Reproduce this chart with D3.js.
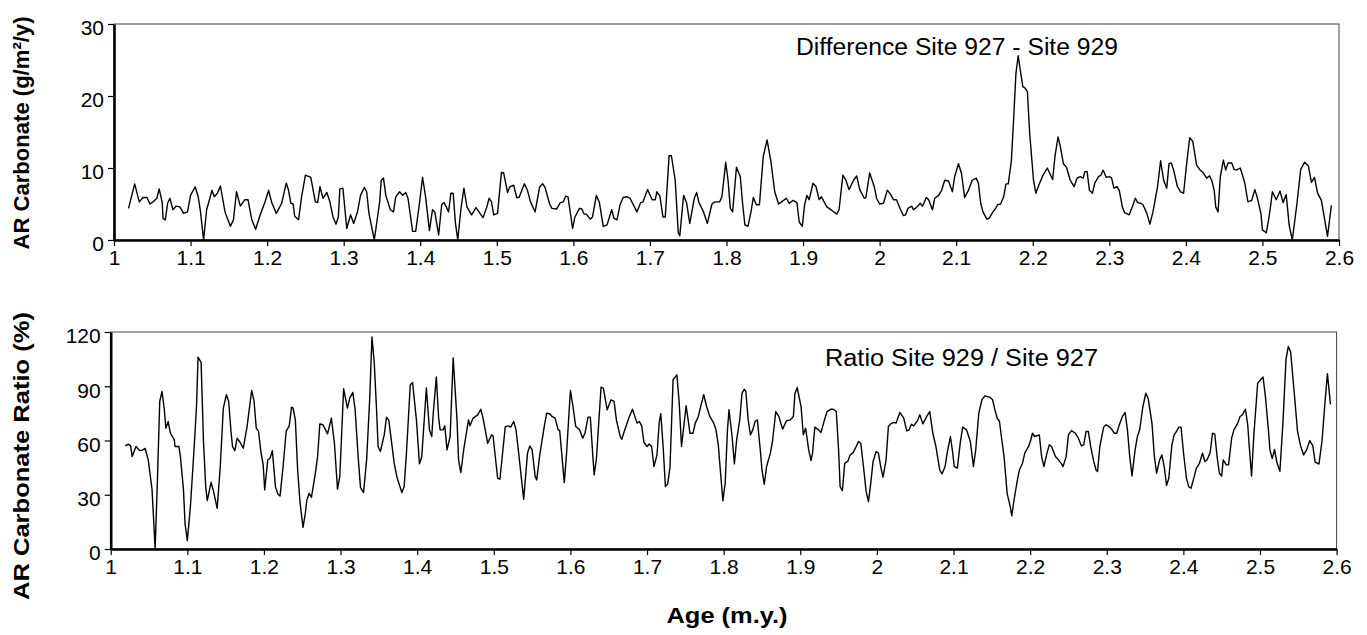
<!DOCTYPE html>
<html>
<head>
<meta charset="utf-8">
<script src="https://cdn.jsdelivr.net/npm/d3@7"></script>
<style>
  body { margin: 0; background: #fff; }
  svg { display: block; font-family: "Liberation Sans", Arial, sans-serif; }
</style>
</head>
<body>
<svg id="chart" width="1367" height="635"></svg>
<script>
// Age ticks shared by both panels
const ageTicks = [1, 1.1, 1.2, 1.3, 1.4, 1.5, 1.6, 1.7, 1.8, 1.9, 2, 2.1, 2.2, 2.3, 2.4, 2.5, 2.6];
const diffTicks = [0, 10, 20, 30];
const ratioTicks = [0, 30, 60, 90, 120];

// Difference Site 927 - Site 929 (g/m2/y)
const diffAge = [1.019,1.027,1.033,1.038,1.043,1.047,1.051,1.056,1.059,1.063,1.064,1.067,1.070,1.073,1.077,1.081,1.086,1.091,1.096,1.100,
1.106,1.110,1.113,1.117,1.121,1.128,1.131,1.135,1.139,1.145,1.152,1.156,1.160,1.165,1.171,1.175,1.180,1.185,1.191,1.197,
1.202,1.206,1.212,1.219,1.225,1.228,1.231,1.234,1.236,1.241,1.245,1.250,1.257,1.263,1.266,1.269,1.273,1.278,1.282,1.286,
1.290,1.293,1.295,1.299,1.304,1.309,1.313,1.318,1.322,1.327,1.330,1.333,1.340,1.347,1.349,1.352,1.355,1.361,1.365,1.368,
1.373,1.377,1.381,1.384,1.390,1.394,1.399,1.403,1.407,1.412,1.416,1.419,1.424,1.428,1.431,1.434,1.437,1.440,1.443,1.446,
1.449,1.453,1.457,1.461,1.467,1.473,1.478,1.482,1.487,1.490,1.493,1.496,1.501,1.506,1.509,1.514,1.517,1.522,1.526,1.529,
1.532,1.536,1.540,1.544,1.550,1.556,1.560,1.563,1.569,1.572,1.578,1.583,1.587,1.590,1.593,1.599,1.602,1.608,1.611,1.614,
1.617,1.622,1.625,1.630,1.634,1.639,1.644,1.650,1.653,1.657,1.661,1.665,1.670,1.674,1.683,1.688,1.691,1.697,1.699,1.703,
1.707,1.709,1.713,1.717,1.720,1.725,1.728,1.733,1.737,1.739,1.744,1.748,1.752,1.758,1.761,1.764,1.770,1.775,1.781,1.785,
1.791,1.794,1.799,1.802,1.805,1.808,1.813,1.818,1.821,1.824,1.828,1.832,1.835,1.839,1.843,1.848,1.853,1.858,1.863,1.868,
1.872,1.878,1.882,1.887,1.892,1.895,1.899,1.902,1.905,1.908,1.913,1.917,1.921,1.924,1.931,1.934,1.939,1.944,1.947,1.952,
1.956,1.960,1.966,1.970,1.974,1.980,1.982,1.987,1.993,1.996,2.000,2.005,2.010,2.014,2.018,2.022,2.027,2.031,2.034,2.037,
2.042,2.044,2.048,2.053,2.056,2.061,2.064,2.069,2.072,2.077,2.081,2.085,2.090,2.095,2.098,2.103,2.107,2.111,2.116,2.121,
2.126,2.129,2.132,2.135,2.140,2.143,2.148,2.151,2.154,2.158,2.162,2.165,2.168,2.172,2.175,2.178,2.181,2.183,2.187,2.190,
2.193,2.196,2.201,2.204,2.209,2.213,2.219,2.222,2.226,2.229,2.233,2.236,2.240,2.244,2.249,2.254,2.258,2.262,2.266,2.268,
2.271,2.274,2.278,2.281,2.286,2.289,2.292,2.296,2.300,2.303,2.306,2.310,2.313,2.317,2.320,2.326,2.330,2.334,2.337,2.341,
2.344,2.349,2.353,2.357,2.363,2.367,2.371,2.375,2.378,2.381,2.384,2.389,2.393,2.397,2.401,2.405,2.409,2.414,2.418,2.423,
2.427,2.431,2.434,2.437,2.439,2.442,2.445,2.449,2.452,2.455,2.460,2.463,2.466,2.471,2.474,2.477,2.481,2.486,2.490,2.493,
2.498,2.500,2.505,2.508,2.510,2.513,2.518,2.523,2.527,2.531,2.535,2.539,2.545,2.550,2.555,2.560,2.564,2.568,2.572,2.577,
2.581,2.585,2.590];
const diffVal = [4.4,7.8,5.3,5.9,5.9,5.0,5.3,5.8,7.1,5.2,3.0,2.8,5.1,5.8,4.2,4.7,4.6,3.7,3.9,6.2,
7.4,6.0,3.9,0,4.2,6.9,6.0,6.5,7.5,3.9,1.9,2.8,6.7,4.7,5.6,5.6,2.8,1.5,3.5,5.2,
6.9,5.2,3.7,5.1,7.9,6.9,5.1,5.0,3.3,2.8,6.0,9.0,8.7,5.3,5.2,7.4,5.8,6.6,5.3,3.2,
2.2,3.2,7.1,7.2,1.6,3.5,2.3,3.9,6.2,7.3,6.7,3.7,0,5.3,8.3,8.6,6.2,4.2,3.9,6.0,
6.7,6.2,6.6,5.8,1.2,1.2,5.1,8.7,6.0,1.3,4.2,3.9,0.7,4.9,5.2,4.6,3.9,6.5,6.5,2.3,
0,4.2,7.2,4.6,3.5,4.5,3.7,3.1,4.6,5.8,5.3,3.5,3.7,9.4,9.3,6.6,7.4,7.6,5.9,5.9,
6.7,7.8,6.9,5.3,3.9,7.4,7.8,7.3,5.0,4.4,4.3,5.2,5.3,6.1,6.0,1.6,3.2,4.4,4.3,3.6,
3.6,2.9,3.2,6.2,5.2,1.9,2.1,4.2,3.0,2.8,4.9,5.9,6.0,5.8,3.9,5.2,5.3,7.0,6.5,5.6,
5.6,6.7,6.1,3.2,3.2,11.7,11.7,8.3,1.0,0.6,6.2,5.1,2.3,5.8,6.6,5.2,3.9,2.3,5.0,5.3,
5.3,6.0,10.8,8.3,4.4,3.9,10.1,8.8,5.1,2.1,1.9,3.9,5.9,4.9,4.9,11.6,13.9,10.9,6.7,5.0,
5.3,5.8,5.1,5.5,5.2,2.5,1.9,4.9,6.2,5.6,7.9,7.4,5.6,6.0,4.6,4.4,4.0,3.6,4.2,9.0,
8.3,7.0,8.3,8.9,7.0,5.8,5.9,9.3,7.4,5.8,5.0,5.1,6.9,6.4,5.6,5.6,4.3,3.4,3.5,4.4,
4.7,4.2,4.5,5.1,4.7,5.9,5.6,4.2,5.8,6.2,6.9,8.3,8.2,6.7,8.8,10.6,9.2,5.9,6.9,8.3,
8.6,7.9,5.1,3.9,2.9,3.0,3.9,4.3,4.9,5.0,6.0,7.8,7.8,10.9,16.7,23.1,25.6,24.1,21.3,21.1,
20.6,14.8,8.3,6.5,7.9,8.9,10.0,9.3,8.4,11.6,14.3,13.0,10.6,10.1,8.3,7.4,8.6,8.8,8.6,9.5,
9.5,6.9,6.5,7.9,8.8,9.0,9.7,8.7,8.8,8.6,7.2,7.4,6.9,4.6,3.8,3.5,4.6,5.8,5.2,5.1,
4.9,3.7,2.2,3.9,7.4,11.0,8.3,7.2,10.6,10.7,9.7,7.4,6.7,6.5,10.6,14.2,13.7,10.4,9.8,9.3,
8.6,8.9,8.2,6.9,4.6,3.9,8.8,11.1,9.7,10.7,10.7,9.8,9.7,10.0,9.0,7.9,5.3,5.5,7.0,6.0,
3.7,1.4,1.0,2.8,4.2,6.7,5.6,6.8,5.2,6.3,2.0,0.0,5.0,9.8,10.8,10.3,8.0,8.7,6.5,5.5,
3.0,0.5,4.8];

// Ratio Site 929 / Site 927 (%)
const ratioAge = [1.019,1.023,1.026,1.028,1.033,1.038,1.042,1.045,1.049,1.054,1.058,1.061,1.064,1.067,1.070,1.072,1.075,1.078,1.083,1.084,
1.089,1.091,1.095,1.097,1.100,1.104,1.109,1.112,1.114,1.118,1.121,1.124,1.126,1.131,1.134,1.139,1.143,1.147,1.151,1.154,
1.157,1.159,1.162,1.165,1.169,1.173,1.178,1.184,1.187,1.190,1.193,1.196,1.199,1.201,1.205,1.208,1.211,1.215,1.218,1.221,
1.225,1.229,1.233,1.236,1.238,1.241,1.244,1.247,1.251,1.254,1.256,1.259,1.262,1.267,1.270,1.273,1.277,1.283,1.288,1.292,
1.296,1.299,1.304,1.309,1.312,1.316,1.319,1.323,1.326,1.330,1.334,1.338,1.341,1.344,1.347,1.349,1.352,1.357,1.360,1.363,
1.367,1.370,1.374,1.380,1.383,1.386,1.391,1.394,1.399,1.403,1.406,1.412,1.416,1.419,1.421,1.425,1.428,1.430,1.434,1.436,
1.439,1.443,1.447,1.452,1.454,1.457,1.461,1.467,1.469,1.473,1.479,1.483,1.486,1.492,1.497,1.499,1.505,1.508,1.515,1.519,
1.522,1.526,1.529,1.532,1.539,1.544,1.547,1.550,1.554,1.556,1.560,1.566,1.569,1.573,1.576,1.580,1.584,1.586,1.592,1.595,
1.600,1.603,1.607,1.612,1.616,1.619,1.623,1.626,1.629,1.631,1.634,1.640,1.643,1.648,1.653,1.657,1.660,1.665,1.667,1.671,
1.677,1.681,1.687,1.690,1.693,1.696,1.700,1.703,1.706,1.709,1.713,1.716,1.718,1.721,1.724,1.727,1.730,1.734,1.739,1.742,
1.745,1.751,1.753,1.756,1.760,1.763,1.767,1.770,1.774,1.778,1.782,1.787,1.790,1.793,1.796,1.799,1.802,1.805,1.807,1.811,
1.814,1.817,1.821,1.824,1.827,1.829,1.832,1.835,1.838,1.841,1.844,1.848,1.850,1.853,1.856,1.861,1.864,1.868,1.872,1.877,
1.882,1.887,1.891,1.893,1.896,1.901,1.904,1.907,1.911,1.914,1.916,1.919,1.924,1.927,1.931,1.935,1.940,1.943,1.947,1.950,
1.952,1.955,1.958,1.962,1.965,1.969,1.973,1.976,1.979,1.982,1.986,1.989,1.992,1.995,1.999,2.002,2.005,2.008,2.012,2.015,
2.018,2.022,2.025,2.030,2.035,2.039,2.042,2.045,2.048,2.053,2.056,2.060,2.065,2.069,2.073,2.077,2.082,2.085,2.089,2.092,
2.096,2.099,2.101,2.105,2.109,2.112,2.117,2.122,2.126,2.129,2.133,2.137,2.141,2.147,2.151,2.154,2.157,2.160,2.163,2.166,
2.170,2.174,2.176,2.179,2.183,2.186,2.190,2.193,2.198,2.201,2.203,2.206,2.212,2.215,2.218,2.222,2.225,2.228,2.233,2.237,
2.241,2.243,2.247,2.250,2.254,2.259,2.263,2.267,2.270,2.273,2.276,2.279,2.283,2.286,2.288,2.291,2.296,2.299,2.303,2.307,
2.310,2.313,2.316,2.320,2.324,2.327,2.330,2.333,2.337,2.340,2.343,2.347,2.351,2.354,2.359,2.362,2.365,2.369,2.372,2.375,
2.378,2.381,2.385,2.388,2.391,2.394,2.397,2.400,2.404,2.407,2.410,2.413,2.417,2.421,2.425,2.428,2.431,2.435,2.438,2.441,
2.444,2.447,2.450,2.452,2.456,2.459,2.463,2.466,2.471,2.474,2.477,2.481,2.484,2.486,2.489,2.492,2.497,2.499,2.504,2.507,
2.511,2.513,2.516,2.519,2.522,2.526,2.530,2.534,2.537,2.540,2.545,2.549,2.553,2.557,2.561,2.565,2.569,2.572,2.577,2.581,
2.585,2.588,2.592];
const ratioVal = [57.0,58.0,57.0,51.1,56.7,54.4,54.8,55.6,49.3,32.7,0,38.2,81.6,87.1,77.0,66.8,70.5,64.0,60.4,56.7,
56.7,51.1,32.7,14.2,4.6,23.4,56.7,78.8,106.1,103.2,60.4,34.5,26.8,36.9,32.3,22.5,45.6,77.9,85.3,81.6,
65.0,56.7,54.4,61.3,58.9,55.7,67.7,87.7,82.1,66.8,65.0,53.9,46.5,32.7,49.3,50.2,54.4,34.5,30.5,29.3,
45.6,65.0,68.1,78.4,77.9,71.4,43.7,26.2,12.0,19.7,27.1,30.8,28.6,41.5,51.1,69.2,68.7,63.7,72.4,58.5,
33.0,40.1,88.6,77.9,83.4,86.6,77.0,50.8,34.1,31.2,49.3,82.5,117.2,102.8,77.0,56.7,53.9,63.1,72.9,71.1,
57.6,47.4,39.1,31.2,34.5,53.0,90.8,92.1,71.4,47.1,51.1,89.0,65.9,62.2,75.1,95.1,72.4,65.9,65.9,68.1,
54.8,62.2,105.6,71.4,49.3,42.3,55.7,71.4,68.1,72.4,74.2,77.3,72.4,58.5,63.1,62.6,39.1,38.6,67.7,68.1,
67.4,70.5,65.9,54.8,27.5,53.0,57.0,54.8,40.1,38.2,52.0,68.1,75.1,74.8,73.3,72.4,65.9,65.5,36.7,53.0,
87.7,79.7,67.7,65.9,61.3,64.0,72.9,72.9,53.0,41.0,50.2,89.5,89.0,77.0,82.5,81.6,71.4,62.2,60.7,65.9,
73.3,77.3,69.6,70.5,68.1,58.9,56.7,58.1,56.7,45.6,52.0,70.5,74.8,56.7,34.5,36.0,45.6,93.6,96.3,80.7,
56.7,79.2,73.3,64.0,64.0,69.6,73.3,78.8,85.3,78.4,73.3,69.6,65.9,57.6,41.9,26.6,36.4,65.9,77.0,62.2,
47.1,60.4,71.4,86.2,88.4,87.1,71.4,63.1,65.9,70.5,71.4,53.9,43.7,35.8,45.6,53.0,60.4,76.0,73.3,66.3,
70.9,71.4,73.3,85.8,89.3,78.8,63.1,66.8,54.8,48.9,53.0,67.4,65.9,64.4,70.5,76.0,77.3,77.3,76.0,54.8,
34.5,32.3,47.4,48.4,52.0,53.3,56.7,59.4,58.5,47.4,31.7,26.2,36.4,48.4,53.9,53.0,45.6,39.7,49.3,67.7,
69.2,70.0,69.6,75.5,72.4,65.3,65.9,69.0,68.1,70.9,74.2,69.2,73.3,76.0,64.0,56.7,43.7,41.5,45.6,53.9,
62.2,53.0,45.6,44.7,59.4,67.4,65.9,59.4,45.6,54.8,75.0,82.5,84.7,84.0,82.5,77.0,72.4,70.5,60.4,51.1,
30.8,23.4,18.3,27.1,37.3,43.7,47.4,53.0,56.7,60.4,64.0,62.2,63.1,51.1,45.6,53.0,57.6,56.7,51.1,49.3,
47.1,45.6,51.1,63.1,65.5,64.0,61.3,57.0,57.6,65.0,65.0,56.7,48.4,43.7,42.8,56.7,67.4,68.7,67.7,65.9,
64.0,64.0,68.1,72.9,75.5,65.9,51.1,40.4,54.8,62.2,65.9,78.4,86.2,83.4,69.6,52.0,41.9,49.3,52.0,45.6,
35.1,39.1,57.6,63.1,65.0,67.4,67.4,53.9,39.1,34.5,33.6,38.2,44.7,47.4,53.0,48.4,49.3,53.3,64.0,63.5,
51.1,41.9,40.4,49.3,46.5,46.5,61.3,65.9,69.6,73.3,74.2,77.3,68.7,56.7,40.4,63.1,91.7,92.7,95.1,84.7,
65.9,54.8,50.0,55.0,48.0,43.0,70.0,105,112,109,85,65,57,52,55,60,57,48,47,60,
82,97,80];

const svg = d3.select("#chart");

function panel(opts) {
  const x = d3.scaleLinear().domain([1, 2.6]).range([opts.left, opts.right]);
  const y = d3.scaleLinear().domain(opts.yDomain).range([opts.bottom, opts.top]);
  const g = svg.append("g");

  // thin frame (top / right)
  g.append("rect")
    .attr("x", opts.left).attr("y", opts.top)
    .attr("width", opts.right - opts.left).attr("height", opts.bottom - opts.top)
    .attr("fill", "none").attr("stroke", "#444").attr("stroke-width", 1);

  // data line
  const pts = opts.ages.map((a, i) => [a, opts.vals[i]]);
  g.append("path")
    .datum(pts)
    .attr("fill", "none")
    .attr("stroke", "#000")
    .attr("stroke-width", 1.4)
    .attr("stroke-linejoin", "round")
    .attr("d", d3.line().x(d => x(d[0])).y(d => y(d[1])));

  // axes
  const xAxis = g.append("g")
    .attr("transform", "translate(0," + opts.bottom + ")")
    .call(d3.axisBottom(x).tickValues(ageTicks).tickFormat(d3.format("")).tickSize(6).tickSizeOuter(0).tickPadding(4));
  const yAxis = g.append("g")
    .attr("transform", "translate(" + opts.left + ",0)")
    .call(d3.axisLeft(y).tickValues(opts.yTicks).tickSize(6).tickSizeOuter(0).tickPadding(4));

  [xAxis, yAxis].forEach(ax => {
    ax.select(".domain").attr("stroke", "#000").attr("stroke-width", 2.6);
    ax.selectAll(".tick line").attr("stroke", "#000").attr("stroke-width", 1.2);
    ax.selectAll(".tick text")
      .attr("fill", "#000")
      .style("font-family", "'Liberation Sans', Arial, sans-serif")
      .style("font-size", "21px");
  });
  yAxis.selectAll(".tick text").attr("dy", "0.52em");
  xAxis.selectAll(".tick text").attr("dy", "0.7em");

  // annotation
  g.append("text")
    .attr("x", opts.noteX).attr("y", opts.noteY)
    .attr("textLength", opts.noteLen).attr("lengthAdjust", "spacingAndGlyphs")
    .style("font-size", "23px")
    .text(opts.note);

  // y title
  g.append("text")
    .attr("transform", "translate(" + opts.titleX + "," + opts.titleY + ") rotate(-90)")
    .attr("text-anchor", "middle")
    .attr("textLength", opts.titleLen).attr("lengthAdjust", "spacingAndGlyphs")
    .style("font-size", "22px").style("font-weight", "bold")
    .text(opts.title);
}

panel({
  left: 114, right: 1339, top: 24, bottom: 240,
  yDomain: [0, 30], yTicks: diffTicks,
  ages: diffAge, vals: diffVal,
  note: "Difference Site 927 - Site 929", noteX: 796, noteY: 55, noteLen: 322,
  title: "AR Carbonate (g/m\u00b2/y)", titleX: 29, titleY: 133, titleLen: 233
});

panel({
  left: 110.7, right: 1336.6, top: 332, bottom: 549,
  yDomain: [0, 120], yTicks: ratioTicks,
  ages: ratioAge, vals: ratioVal,
  note: "Ratio Site 929 / Site 927", noteX: 825, noteY: 366, noteLen: 273,
  title: "AR Carbonate Ratio (%)", titleX: 29, titleY: 456, titleLen: 288
});

svg.append("text")
  .attr("x", 727).attr("y", 623)
  .attr("text-anchor", "middle")
  .attr("textLength", 121).attr("lengthAdjust", "spacingAndGlyphs")
  .style("font-size", "22px").style("font-weight", "bold")
  .text("Age (m.y.)");
</script>
</body>
</html>
